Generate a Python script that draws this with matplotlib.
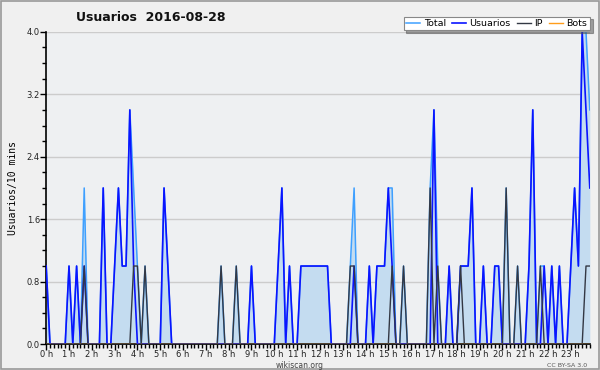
import numpy as np
import matplotlib
matplotlib.use("Agg")
import matplotlib.pyplot as plt
from matplotlib.patches import Rectangle
from matplotlib.ticker import MultipleLocator, FixedLocator

# 10-minute slots over one day (144 slots)
hours = [f"{h} h" for h in range(24)]

usuarios = [
    1, 0, 0, 0, 0, 0,   1, 0, 1, 0, 1, 0,   0, 0, 0, 2, 0, 0,   1, 2, 1, 1, 3, 1,
    0, 0, 0, 0, 0, 0,   0, 2, 1, 0, 0, 0,   0, 0, 0, 0, 0, 0,   0, 0, 0, 0, 0, 0,
    0, 0, 0, 0, 0, 0,   1, 0, 0, 0, 0, 0,   0, 1, 2, 0, 1, 0,   0, 1, 1, 1, 1, 1,
    1, 1, 1, 0, 0, 0,   0, 0, 0, 1, 0, 0,   0, 1, 0, 1, 1, 1,   2, 1, 0, 0, 0, 0,
    0, 0, 0, 0, 0, 0,   3, 0, 0, 0, 1, 0,   0, 1, 1, 1, 2, 0,   0, 1, 0, 0, 1, 1,
    0, 0, 0, 0, 0, 0,   0, 1, 3, 0, 0, 1,   0, 1, 0, 1, 0, 0,   1, 2, 1, 4, 3, 2,
]
ip = [
    0, 0, 0, 0, 0, 0,   0, 0, 0, 0, 1, 0,   0, 0, 0, 0, 0, 0,   0, 0, 0, 0, 0, 1,
    1, 0, 1, 0, 0, 0,   0, 0, 0, 0, 0, 0,   0, 0, 0, 0, 0, 0,   0, 0, 0, 0, 1, 0,
    0, 0, 1, 0, 0, 0,   0, 0, 0, 0, 0, 0,   0, 0, 0, 0, 0, 0,   0, 0, 0, 0, 0, 0,
    0, 0, 0, 0, 0, 0,   0, 0, 1, 1, 0, 0,   0, 0, 0, 0, 0, 0,   0, 1, 0, 0, 1, 0,
    0, 0, 0, 0, 0, 2,   0, 1, 0, 0, 0, 0,   0, 1, 0, 0, 0, 0,   0, 0, 0, 0, 0, 0,
    0, 2, 0, 0, 1, 0,   0, 0, 0, 0, 1, 0,   0, 0, 0, 0, 0, 0,   0, 0, 0, 0, 1, 1,
]
total = [
    1, 0, 0, 0, 0, 0,   1, 0, 1, 0, 2, 0,   0, 0, 0, 2, 0, 0,   1, 2, 1, 1, 3, 2,
    1, 0, 1, 0, 0, 0,   0, 2, 1, 0, 0, 0,   0, 0, 0, 0, 0, 0,   0, 0, 0, 0, 1, 0,
    0, 0, 1, 0, 0, 0,   1, 0, 0, 0, 0, 0,   0, 1, 2, 0, 1, 0,   0, 1, 1, 1, 1, 1,
    1, 1, 1, 0, 0, 0,   0, 0, 1, 2, 0, 0,   0, 1, 0, 1, 1, 1,   2, 2, 0, 0, 1, 0,
    0, 0, 0, 0, 0, 2,   3, 1, 0, 0, 1, 0,   0, 1, 1, 1, 2, 0,   0, 1, 0, 0, 1, 1,
    0, 2, 0, 0, 1, 0,   0, 1, 3, 0, 1, 1,   0, 1, 0, 1, 0, 0,   1, 2, 1, 4, 4, 3,
]
bots = [0] * 144

x = np.arange(len(total))

fig = plt.figure(figsize=(6.0, 3.7), dpi=100, facecolor="#f0f0f0")
ax = fig.add_axes([0.077, 0.070, 0.906, 0.844])
ax.set_facecolor("#eef0f2")

ax.fill_between(x, total, 0, color="#c4dcf0", lw=0, zorder=1)
ax.plot(x, total, color="#3fa0ff", lw=1.1, zorder=2, label="Total")
ax.plot(x, usuarios, color="#0a14ff", lw=1.2, zorder=3, label="Usuarios")
ax.plot(x, ip, color="#333844", lw=1.0, zorder=4, label="IP")
ax.plot(x, bots, color="#ff9d1a", lw=1.0, zorder=5, label="Bots")

ax.set_xlim(0, 143)
ax.set_ylim(0, 4.0)
ax.xaxis.set_major_locator(FixedLocator(np.arange(0, 144, 6)))
ax.set_xticklabels(hours)
ax.xaxis.set_minor_locator(MultipleLocator(1))
ax.yaxis.set_major_locator(MultipleLocator(0.8))
ax.yaxis.set_minor_locator(MultipleLocator(0.2))
ax.yaxis.set_major_formatter(matplotlib.ticker.FormatStrFormatter("%.1f"))
ax.tick_params(axis="both", which="major", labelsize=6, length=4, width=1,
               color="black", labelcolor="#222222", pad=0.5)
ax.tick_params(axis="both", which="minor", length=3, width=1, color="black")
ax.grid(axis="y", which="major", color="#cccccc", lw=1)
ax.set_axisbelow(True)
for s in ("top", "right"):
    ax.spines[s].set_visible(False)
for s in ("left", "bottom"):
    ax.spines[s].set_linewidth(1.2)

ax.set_ylabel("Usuarios/10 mins", family="DejaVu Sans Mono", fontsize=7, labelpad=6)

fig.text(0.252, 0.953, "Usuarios  2016-08-28", ha="center", va="center",
         fontsize=9, fontweight="bold", color="#111111")
fig.text(0.5, 0.012, "wikiscan.org", ha="center", va="center", fontsize=5.5, color="#444444")
fig.text(0.978, 0.012, "CC BY-SA 3.0", ha="right", va="center", fontsize=4.5, color="#555555")

leg = fig.legend(loc="upper right", bbox_to_anchor=(0.983, 0.955), ncol=4, fontsize=6.8,
                 frameon=True, fancybox=False, shadow=True, handlelength=1.5,
                 handletextpad=0.4, columnspacing=0.6, borderpad=0.25,
                 borderaxespad=0)
leg.get_frame().set_edgecolor("#888888")
leg.get_frame().set_linewidth(0.8)
leg.set_zorder(10)

fig.patches.append(Rectangle((0.001, 0.002), 0.997, 0.995, transform=fig.transFigure,
                             fill=False, edgecolor="#999999", lw=1.2))

fig.savefig("out.png", dpi=100, facecolor=fig.get_facecolor())
